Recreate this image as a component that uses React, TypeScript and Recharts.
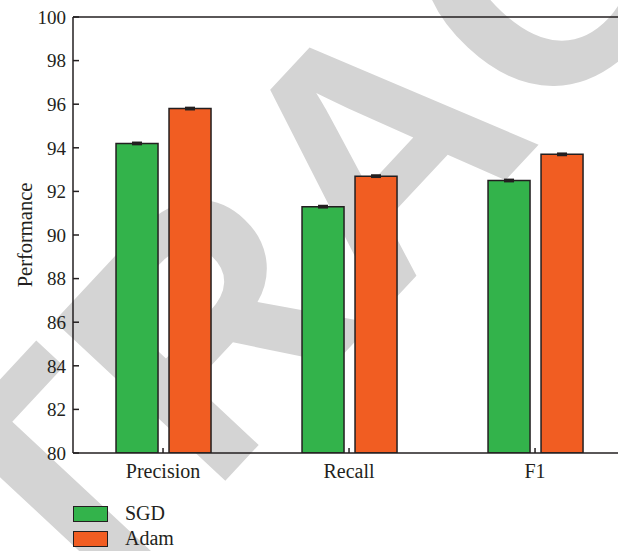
import React from 'react';
import { BarChart, Bar, XAxis, YAxis, ErrorBar, Label } from 'recharts';

const categories = ['Precision', 'Recall', 'F1'];
const sgdScores = [94.2, 91.3, 92.5];
const adamScores = [95.8, 92.7, 93.7];
const sgdErrors = [0.03, 0.03, 0.03];
const adamErrors = [0.03, 0.03, 0.03];
const yTicks = [80, 82, 84, 86, 88, 90, 92, 94, 96, 98, 100];

const SGD_COLOR = '#33b34b';
const ADAM_COLOR = '#f15d22';
const INK = '#231f20';
const FONT = '"Liberation Serif", "DejaVu Serif", serif';

const data = categories.map((name, i) => ({
  pos: i + 1,
  name,
  sgd: sgdScores[i],
  adam: adamScores[i],
  sgdErr: sgdErrors[i],
  adamErr: adamErrors[i],
}));

const xDomain = [0.516, 3.446];
const xTicks = data.map((d) => d.pos);

const LegendRow: React.FC<{ color: string; label: string }> = ({ color, label }) => (
  <div style={{ display: 'flex', alignItems: 'center', height: 25 }}>
    <div style={{ width: 33, height: 14, background: color, border: `1.5px solid ${INK}` }} />
    <span style={{ marginLeft: 17, fontSize: 20, color: INK, fontFamily: FONT }}>{label}</span>
  </div>
);

export default function App() {
  return (
    <div style={{ position: 'absolute', left: 0, top: 0, width: 618, height: 551, background: '#fff', overflow: 'hidden' }}>
      {/* background stamp */}
      <svg width={618} height={551} style={{ position: 'absolute', left: 0, top: 0 }}>
        <text
          x={461}
          y={228}
          transform="rotate(-47 461 228)"
          textAnchor="middle"
          fontFamily='"Liberation Sans", Arial, sans-serif'
          fontWeight="bold"
          fontSize={340}
          fill="#d4d4d4"
        >
          RETRACTED
        </text>
      </svg>

      <div style={{ position: 'absolute', left: 0, top: 0 }}>
        <BarChart
          width={618}
          height={551}
          data={data}
          margin={{ top: 7, right: 0, left: 0, bottom: 58 }}
          barSize={42}
          barGap={11}
        >
          <XAxis
            type="number"
            dataKey="pos"
            domain={xDomain}
            ticks={xTicks}
            allowDataOverflow
            tickFormatter={(v: number) => categories[v - 1]}
            height={40}
            stroke={INK}
            strokeWidth={1.5}
            tickSize={-5}
            tickMargin={16}
            tick={{ fill: INK, fontSize: 20, fontFamily: FONT }}
          />
          <XAxis
            xAxisId="top"
            orientation="top"
            type="number"
            dataKey="pos"
            domain={xDomain}
            ticks={xTicks}
            allowDataOverflow
            height={10}
            stroke={INK}
            strokeWidth={1.5}
            tickSize={-6}
            tick={false}
          />
          <YAxis
            type="number"
            domain={[80, 100]}
            ticks={yTicks}
            allowDataOverflow
            width={73}
            stroke={INK}
            strokeWidth={1.5}
            tickSize={-6}
            tickMargin={13}
            tick={{ fill: INK, fontSize: 19, fontFamily: FONT }}
          >
            <Label
              content={() => (
                <text
                  x={32}
                  y={235}
                  transform="rotate(-90 32 235)"
                  textAnchor="middle"
                  fill={INK}
                  fontSize={20.5}
                  fontFamily={FONT}
                >
                  Performance
                </text>
              )}
            />
          </YAxis>
          <Bar dataKey="sgd" fill={SGD_COLOR} stroke={INK} strokeWidth={1.5} isAnimationActive={false}>
            <ErrorBar dataKey="sgdErr" width={5} stroke={INK} strokeWidth={2.5} />
          </Bar>
          <Bar dataKey="adam" fill={ADAM_COLOR} stroke={INK} strokeWidth={1.5} isAnimationActive={false}>
            <ErrorBar dataKey="adamErr" width={5} stroke={INK} strokeWidth={2.5} />
          </Bar>
        </BarChart>
      </div>

      <div style={{ position: 'absolute', left: 73, top: 501 }}>
        <LegendRow color={SGD_COLOR} label="SGD" />
        <LegendRow color={ADAM_COLOR} label="Adam" />
      </div>
    </div>
  );
}
